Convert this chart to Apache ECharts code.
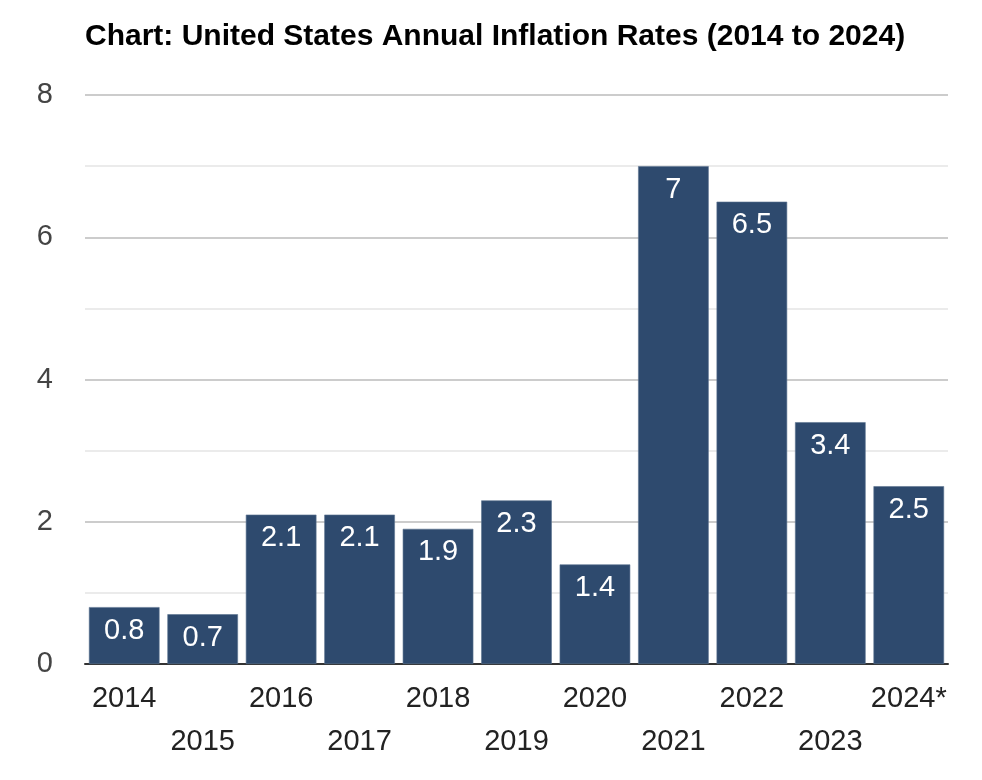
<!DOCTYPE html>
<html>
<head>
<meta charset="utf-8">
<script src="https://cdn.jsdelivr.net/npm/echarts@6/dist/echarts.min.js"></script>
<style>
  html, body { margin: 0; padding: 0; background: #fff; }
  #chart { width: 982px; height: 780px; }
</style>
</head>
<body>
<div id="chart"></div>
<script>
const years = ['2014', '2015', '2016', '2017', '2018', '2019', '2020', '2021', '2022', '2023', '2024*'];
const rates = [0.8, 0.7, 2.1, 2.1, 1.9, 2.3, 1.4, 7, 6.5, 3.4, 2.5];
const yTicks = [0, 2, 4, 6, 8];

const font = '"Liberation Sans", Arial, Helvetica, sans-serif';
const chart = echarts.init(document.getElementById('chart'));

chart.setOption({
  backgroundColor: '#fff',
  animation: false,
  title: {
    text: 'Chart: United States Annual Inflation Rates (2014 to 2024)',
    left: 80, top: 17,
    textStyle: { fontFamily: font, fontSize: 30, fontWeight: 'bold', color: '#000' }
  },
  grid: { left: 85, right: 34, top: 95, bottom: 116 },
  xAxis: {
    type: 'category',
    data: years,
    axisTick: { show: false },
    axisLine: { lineStyle: { color: '#333', width: 2 } },
    axisLabel: {
      interval: 0,
      margin: 13,
      fontFamily: font, fontSize: 29, color: '#222', lineHeight: 43,
      formatter: (v, i) => (i % 2 ? '\n' + v : v)
    }
  },
  yAxis: {
    type: 'value',
    min: yTicks[0], max: yTicks[yTicks.length - 1], interval: 2,
    axisLine: { show: false },
    axisTick: { show: false },
    axisLabel: { margin: 32, fontFamily: font, fontSize: 29, color: '#444' },
    splitLine: { lineStyle: { color: '#cccccc', width: 2 } },
    minorTick: { show: false, splitNumber: 2 },
    minorSplitLine: { show: true, lineStyle: { color: '#ebebeb', width: 2 } }
  },
  series: [{
    type: 'bar',
    data: rates,
    barCategoryGap: '10%',
    itemStyle: { color: '#2e4a6e', borderColor: '#5c7390', borderWidth: 0.6 },
    label: {
      show: true, position: 'insideTop', distance: 9,
      fontFamily: font, fontSize: 29, color: '#fff'
    }
  }]
});
</script>
</body>
</html>
